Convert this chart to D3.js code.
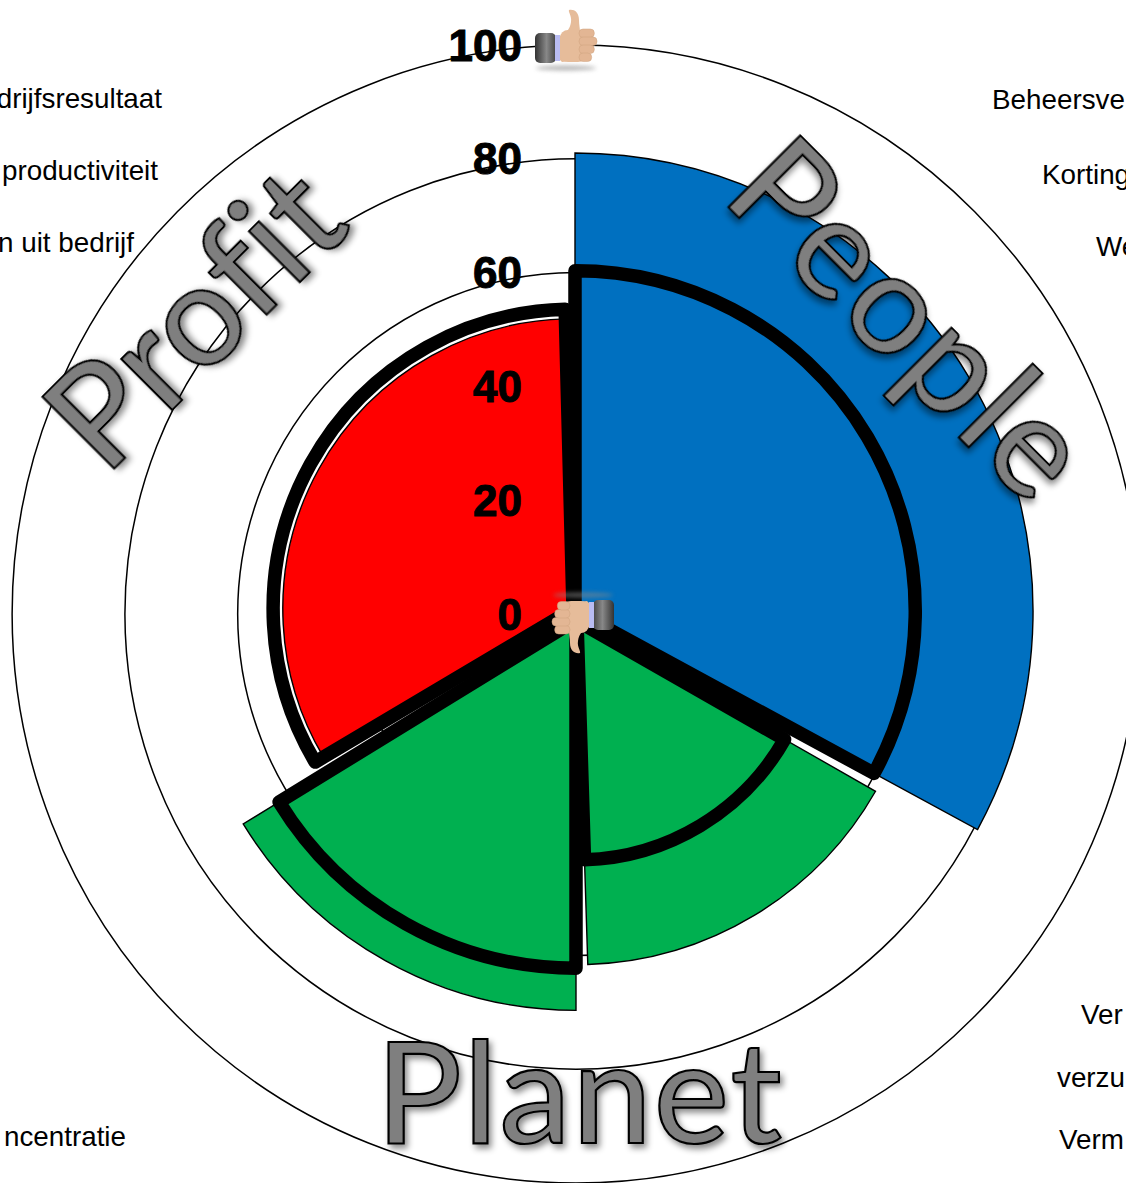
<!DOCTYPE html>
<html>
<head>
<meta charset="utf-8">
<script src="https://d3js.org/d3.v7.min.js"></script>
<style>
    html, body { margin: 0; padding: 0; background: #fff; overflow: hidden; }
    svg { display: block; }
    .tick-labels text { font-family: "Liberation Sans", Arial, sans-serif; font-weight: bold; font-size: 44px; fill: #000; stroke: #000; stroke-width: 1px; }
    .side { font-family: "Liberation Sans", Arial, sans-serif; font-size: 27.8px; fill: #000; }
    .big { font-family: Lato, "Open Sans", sans-serif; font-weight: 500; font-size: 142px; font-variant-ligatures: none; fill: #7f7f7f; stroke: #000; stroke-width: 2.2px; filter: url(#shadow); }
</style>
</head>
<body>
<div id="main"></div>
<script>
const w = 1126;
const h = 1183;

// chart values
const sectors = ["People", "Planet A", "Planet B", "Profit"];
const startAngles = [0, 119.7, 180, 239.3];
const endAngles = [118.5, 178.2, 238.5, 358.5];
const scoreValues = [80.5, 60.4, 68.6, 51];
const outlineValues = [59.8, 42, 61.2, 52.7];
const sectorColors = ["#0070c0", "#00b050", "#00b050", "#ff0000"];
const ticks = [0, 20, 40, 60, 80, 100];
const rings = [20, 40, 60, 80, 100];
const bigLabels = ["People", "Profit", "Planet"];
const leftLabels = ["drijfsresultaat", "productiviteit", "n uit bedrijf", "ncentratie"];
const rightLabels = ["Beheersve", "Korting", "We", "Ver", "verzu", "Verm"];

const cx = 576;
const cy = 614;
const rScale = d3.scaleLinear().domain([0, 100]).range([0, 569]);
const yScale = d3.scaleLinear().domain([0, 100]).range([cy, cy - 569]);

// the slices are not quite on the ring centre
const sectorCentres = [[575, 611], [577, 621], [576, 620], [573, 609]];

const svg = d3.select("#main").append("svg").attr("width", w).attr("height", h);
const defs = svg.append("defs");

const shadow = defs.append("filter").attr("id", "shadow")
    .attr("x", "-10%").attr("y", "-10%").attr("width", "120%").attr("height", "120%");
shadow.append("feDropShadow")
    .attr("dx", 3).attr("dy", 4).attr("stdDeviation", 3)
    .attr("flood-color", "#000").attr("flood-opacity", 0.45);

const blur = defs.append("filter").attr("id", "blur")
    .attr("x", "-20%").attr("y", "-200%").attr("width", "140%").attr("height", "500%");
blur.append("feGaussianBlur").attr("stdDeviation", 2);

const cuffGrad = defs.append("linearGradient").attr("id", "cuff");
cuffGrad.append("stop").attr("offset", "0%").attr("stop-color", "#333");
cuffGrad.append("stop").attr("offset", "55%").attr("stop-color", "#888");
cuffGrad.append("stop").attr("offset", "100%").attr("stop-color", "#444");

//rings, the picture is a little squeezed sideways
svg.selectAll("ellipse.ring")
    .data(rings)
    .enter()
    .append("ellipse")
    .attr("class", "ring")
    .attr("cx", cx)
    .attr("cy", cy)
    .attr("rx", (d) => rScale(d) * 0.991)
    .attr("ry", (d) => rScale(d))
    .attr("fill", "none")
    .attr("stroke", "#000")
    .attr("stroke-width", 1.5);

const arc = d3.arc().innerRadius(0);
const rad = (d) => d * Math.PI / 180;

function slicePath(i, value) {
    return arc({ startAngle: rad(startAngles[i]), endAngle: rad(endAngles[i]), outerRadius: rScale(value) });
}

//filled slices
svg.selectAll("path.score")
    .data(sectors)
    .enter()
    .append("path")
    .attr("class", "score")
    .attr("transform", (d, i) => "translate(" + sectorCentres[i][0] + "," + sectorCentres[i][1] + ")")
    .attr("d", (d, i) => slicePath(i, scoreValues[i]))
    .attr("fill", (d, i) => sectorColors[i])
    .attr("stroke", "#000")
    .attr("stroke-width", 1.4)
    .attr("stroke-linejoin", "miter");

//thick outlines
svg.selectAll("path.outline")
    .data(sectors)
    .enter()
    .append("path")
    .attr("class", "outline")
    .attr("transform", (d, i) => "translate(" + sectorCentres[i][0] + "," + sectorCentres[i][1] + ")")
    .attr("d", (d, i) => slicePath(i, outlineValues[i]))
    .attr("fill", "none")
    .attr("stroke", "#000")
    .attr("stroke-width", 13.5)
    .attr("stroke-linejoin", "round");

//axis labels
const yAxis = d3.axisLeft(yScale).tickValues(ticks).tickSize(0).tickPadding(0);
const axisG = svg.append("g")
    .attr("class", "tick-labels")
    .attr("transform", "translate(522,0)")
    .call(yAxis);
axisG.select(".domain").remove();
axisG.selectAll("text").attr("dy", "0.345em");
axisG.attr("font-size", null).attr("font-family", null);

//side texts, they run off the page
const leftPos = [[162, 108], [158, 180], [134, 252], [126, 1146]];
const rightPos = [[992, 109], [1042, 184], [1096, 256], [1081, 1024], [1057, 1087], [1059, 1149]];

svg.selectAll("text.left")
    .data(leftLabels)
    .enter()
    .append("text")
    .attr("class", "side left")
    .attr("x", (d, i) => leftPos[i][0])
    .attr("y", (d, i) => leftPos[i][1])
    .attr("text-anchor", "end")
    .text((d) => d);

svg.selectAll("text.right")
    .data(rightLabels)
    .enter()
    .append("text")
    .attr("class", "side right")
    .attr("x", (d, i) => rightPos[i][0])
    .attr("y", (d, i) => rightPos[i][1])
    .text((d) => d);

//big titles
const bigTransforms = ["translate(720,198) rotate(45)", "translate(105,477) rotate(-45)", "translate(376,1143)"];
const bigSpacing = [2.5, 0.5, 2];
svg.selectAll("text.big")
    .data(bigLabels)
    .enter()
    .append("text")
    .attr("class", "big")
    .attr("transform", (d, i) => bigTransforms[i])
    .attr("letter-spacing", (d, i) => bigSpacing[i])
    .text((d) => d);

//thumb icon, drawn pointing up around its own origin
function drawThumb(g) {
    g.append("ellipse").attr("cx", 0).attr("cy", 32).attr("rx", 30).attr("ry", 2.5)
        .attr("fill", "#888").attr("opacity", 0.6).attr("filter", "url(#blur)");
    g.append("rect").attr("x", -31).attr("y", -3).attr("width", 21).attr("height", 30).attr("rx", 5)
        .attr("fill", "url(#cuff)");
    g.append("rect").attr("x", -11).attr("y", -1).attr("width", 5).attr("height", 26)
        .attr("fill", "#b9bcf2");
    g.append("path")
        .attr("d", "M-6,0 C2,-4 4,-8 5,-14 C6,-20 2,-24 3,-26 C8,-27 13,-24 13,-16 C13,-11 14,-8 14,-4 L14,24 L-4,26 L-6,24 Z")
        .attr("fill", "#e6bc9a");
    g.append("rect").attr("x", -6).attr("y", -6).attr("width", 26).attr("height", 32).attr("rx", 8)
        .attr("fill", "#e6bc9a");
    [-6, 2, 10, 18].forEach((y) => {
        g.append("rect").attr("x", 13).attr("y", y - 1).attr("width", 18 - Math.abs(y - 2) / 3).attr("height", 8.5).attr("rx", 4)
            .attr("fill", "#e3b694").attr("stroke", "#cfa27f").attr("stroke-width", 0.5);
    });
}

drawThumb(svg.append("g").attr("transform", "translate(566,36)"));
drawThumb(svg.append("g").attr("transform", "translate(583,627) rotate(180)"));
</script>
</body>
</html>
